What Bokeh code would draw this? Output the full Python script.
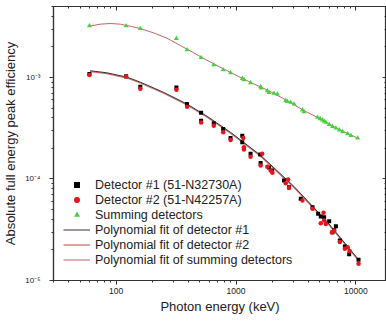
from bokeh.plotting import figure
from bokeh.models import (LogAxis, LogTicker, CustomJSTickFormatter, Legend,
                          LegendItem, Range1d)
from bokeh.embed import file_html
from bokeh.resources import INLINE

# ---- data ----
det1_energy = [59.8, 121, 159, 318, 390, 511, 511, 652, 781, 900, 1127, 1127,
               1322, 1590, 1603, 1883, 2000, 2512, 2767, 3467, 4345, 4842,
               5093, 5430, 5985, 6590, 6810, 6385, 7345, 8090, 8790, 10520]
det1_eff = [1.08e-3, 1.03e-3, 8.1e-4, 7.97e-4, 5.47e-4, 4.5e-4, 3.75e-4,
            3.53e-4, 3.11e-4, 2.54e-4, 2.67e-4, 2.30e-4, 1.77e-4, 1.74e-4,
            1.44e-4, 1.30e-4, 1.21e-4, 9.64e-5, 8.28e-5, 6.37e-5, 5.27e-5,
            4.54e-5, 4.27e-5, 4.2e-5, 3.84e-5, 3.15e-5, 3.43e-5, 2.99e-5,
            2.48e-5, 2.16e-5, 1.81e-5, 1.60e-5]

det2_energy = [59.8, 121, 159, 318, 390, 511, 652, 781, 900, 1148, 1164, 1164,
               1322, 1652, 1603, 1824, 1945, 2010, 2597, 2718, 2767, 3580,
               4345, 5370, 5430, 5093, 5610, 6305, 6590, 7345, 8090, 8850,
               8530, 10520]
det2_eff = [1.06e-3, 1.02e-3, 7.74e-4, 7.57e-4, 5.15e-4, 3.61e-4, 3.35e-4,
            2.88e-4, 2.42e-4, 2.54e-4, 2.05e-4, 1.95e-4, 1.66e-4, 1.77e-4,
            1.36e-4, 1.32e-4, 1.21e-4, 1.15e-4, 9.07e-5, 9.86e-5, 8.16e-5,
            6.14e-5, 5.08e-5, 4.65e-5, 3.9e-5, 3.66e-5, 3.61e-5, 2.97e-5,
            3.11e-5, 2.39e-5, 2.06e-5, 1.95e-5, 2.13e-5, 1.46e-5]

sum_energy = [59.8, 121, 159, 318, 390, 511, 652, 781, 900, 1127, 1164, 1322,
              1603, 1624, 1824, 1883, 2072, 2212, 2597, 2681, 2858, 3048,
              3580, 3690, 4775, 5023, 5260, 5430, 5610, 5985, 6385, 6810,
              7265, 7750, 8530, 9085, 10330]
sum_eff = [3.22e-3, 3.22e-3, 3.03e-3, 2.42e-3, 1.87e-3, 1.57e-3, 1.33e-3,
           1.19e-3, 1.11e-3, 9.77e-4, 9.5e-4, 8.87e-4, 8.1e-4, 7.87e-4,
           7.4e-4, 7.1e-4, 6.97e-4, 6.87e-4, 5.9e-4, 5.8e-4, 5.68e-4,
           5.47e-4, 4.78e-4, 4.6e-4, 4.05e-4, 3.92e-4, 3.81e-4, 3.69e-4,
           3.61e-4, 3.43e-4, 3.28e-4, 3.17e-4, 3.04e-4, 2.92e-4, 2.79e-4,
           2.67e-4, 2.53e-4]

fit1_energy = [60.6, 83.5, 122.8, 158.8, 249, 390, 574, 900, 1603, 3048,
               5795, 10665]
fit1_eff = [1.164e-3, 1.112e-3, 1.008e-3, 9.0e-4, 7.13e-4, 5.47e-4, 4.14e-4,
            2.88e-4, 1.71e-4, 8.42e-5, 3.75e-5, 1.576e-5]

fit2_energy = [60.6, 83.5, 122.8, 158.8, 249, 390, 574, 900, 1603, 3048,
               5795, 10665]
fit2_eff = [1.141e-3, 1.09e-3, 9.88e-4, 8.82e-4, 6.99e-4, 5.36e-4, 4.06e-4,
            2.82e-4, 1.676e-4, 8.25e-5, 3.68e-5, 1.545e-5]

fitsum_energy = [59.8, 73.5, 89.1, 108, 131, 159, 205, 265, 343, 390, 511,
                 652, 900, 1322, 1824, 2681, 3690, 5093, 7030, 10330]
fitsum_eff = [3.20e-3, 3.35e-3, 3.40e-3, 3.35e-3, 3.20e-3, 3.03e-3, 2.75e-3,
              2.44e-3, 2.065e-3, 1.90e-3, 1.59e-3, 1.36e-3, 1.12e-3, 8.93e-4,
              7.52e-4, 5.90e-4, 4.71e-4, 3.90e-4, 3.13e-4, 2.53e-4]

legend_labels = ["Detector #1 (51-N32730A)", "Detector #2 (51-N42257A)",
                 "Summing detectors", "Polynomial fit of detector #1",
                 "Polynomial fit of detector #2",
                 "Polynomial fit of summing detectors"]

FONT = "Liberation Sans"
AX = "#333333"

p = figure(width=386, height=322, x_axis_type="log", y_axis_type="log",
           x_range=Range1d(30, 18000), y_range=Range1d(1e-5, 5e-3),
           output_backend="svg", toolbar_location=None,
           min_border_left=53, min_border_top=6, min_border_right=0,
           min_border_bottom=42)
p.title.visible = False
p.xgrid.visible = False
p.ygrid.visible = False
p.outline_line_color = AX
p.outline_line_width = 1.2
p.background_fill_color = "white"

# fits
l2 = p.line(fit2_energy, fit2_eff, line_color="#d07070", line_width=1.3)
l1 = p.line(fit1_energy, fit1_eff, line_color="#3a3030", line_width=1.0)
l3 = p.line(fitsum_energy, fitsum_eff, line_color="#c06868", line_width=1.0)

# points
s1 = p.scatter(det1_energy, det1_eff, marker="square", size=4,
               fill_color="black", line_color=None)
s2 = p.scatter(det2_energy, det2_eff, marker="circle", size=4.5,
               fill_color="#e8141c", line_color=None)
s3 = p.scatter(sum_energy, sum_eff, marker="triangle", size=5,
               fill_color="#48d040", line_color=None)

sup = CustomJSTickFormatter(code="""
const e = Math.round(Math.log10(tick));
const m = {"-":"\u207b","0":"\u2070","1":"\u00b9","2":"\u00b2","3":"\u00b3",
           "4":"\u2074","5":"\u2075","6":"\u2076","7":"\u2077","8":"\u2078","9":"\u2079"};
return "10" + String(e).split("").map(c => m[c]).join("");
""")
plain = CustomJSTickFormatter(code="return String(Math.round(tick));")

xa = p.xaxis[0]
xa.formatter = plain
xa.ticker = LogTicker(num_minor_ticks=10)
xa.axis_label = "Photon energy (keV)"
ya = p.yaxis[0]
ya.formatter = sup
ya.ticker = LogTicker(num_minor_ticks=10)
ya.axis_label = "Absolute full energy peak efficiency"

for ax in (xa, ya):
    ax.axis_line_color = AX
    ax.axis_line_width = 1.2
    ax.major_tick_line_color = AX
    ax.minor_tick_line_color = AX
    ax.major_tick_out = 4
    ax.major_tick_in = 0
    ax.minor_tick_out = 2
    ax.minor_tick_in = 0
    ax.major_label_text_font = FONT
    ax.major_label_text_color = "#222222"
    ax.axis_label_text_font = FONT
    ax.axis_label_text_font_style = "normal"
    ax.axis_label_text_font_size = "13px"
    ax.axis_label_text_color = "#222222"
xa.major_label_standoff = 3
ya.major_label_standoff = 9
xa.major_label_text_font_size = "8.5px"
ya.major_label_text_font_size = "8px"
xa.axis_label_standoff = 2
ya.axis_label_standoff = 4

top = LogAxis(ticker=LogTicker(num_minor_ticks=10), formatter=plain)
right = LogAxis(ticker=LogTicker(num_minor_ticks=10), formatter=sup)
for ax in (top, right):
    ax.axis_line_color = AX
    ax.axis_line_width = 1.2
    ax.major_tick_line_color = AX
    ax.minor_tick_line_color = AX
    ax.major_tick_in = 4
    ax.major_tick_out = 0
    ax.minor_tick_in = 2
    ax.minor_tick_out = 0
    ax.major_label_text_font_size = "1px"
    ax.major_label_standoff = 0
    ax.major_label_text_alpha = 0
p.add_layout(top, "above")
p.add_layout(right, "right")

legend = Legend(items=[
    LegendItem(label=legend_labels[0], renderers=[s1]),
    LegendItem(label=legend_labels[1], renderers=[s2]),
    LegendItem(label=legend_labels[2], renderers=[s3]),
    LegendItem(label=legend_labels[3], renderers=[l1]),
    LegendItem(label=legend_labels[4], renderers=[l2]),
    LegendItem(label=legend_labels[5], renderers=[l3]),
], location=(10, 13), padding=0, margin=0, spacing=0, label_height=15,
    glyph_height=15, glyph_width=27, label_standoff=5,
    label_text_font=FONT, label_text_font_size="12.5px",
    label_text_color="#222222", background_fill_alpha=0,
    border_line_color=None)
p.add_layout(legend)

open("out.html", "w").write(file_html(p, INLINE))
